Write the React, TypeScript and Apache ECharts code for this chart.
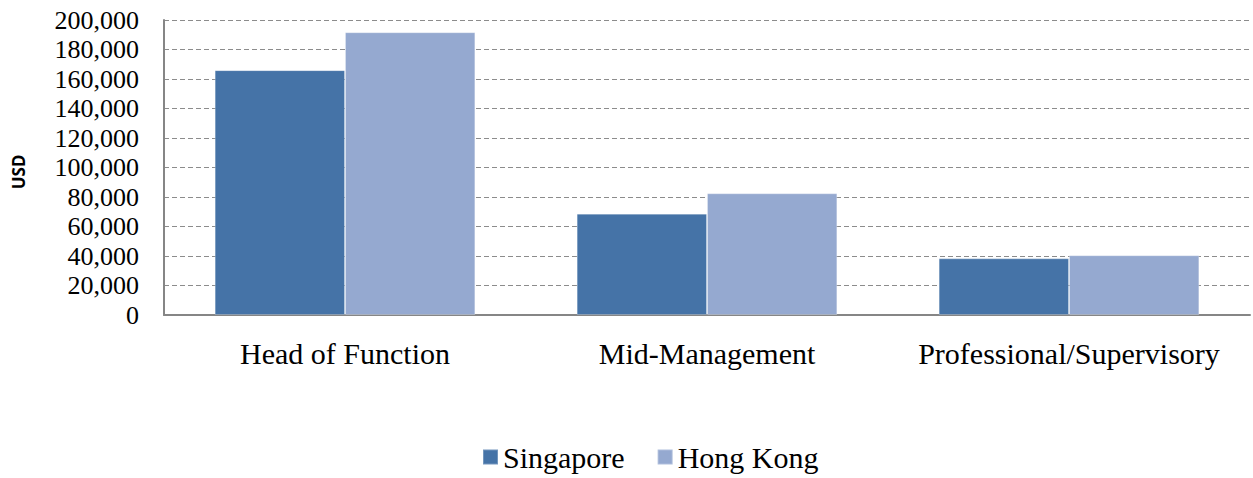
import React, { useEffect, useRef } from "react";
import * as echarts from "echarts";

const categories = ["Head of Function", "Mid-Management", "Professional/Supervisory"];
const singapore = [166000, 68700, 38400];
const hongKong = [191700, 82500, 40500];
const seriesNames = ["Singapore", "Hong Kong"];
const yAxisTitle = "USD";

export default function App() {
  const ref = useRef<HTMLDivElement>(null);
  useEffect(() => {
    document.body.style.margin = "0";
    const chart = echarts.init(ref.current!, null, { renderer: "svg" });
    const serif = "Times New Roman, Liberation Serif, serif";
    chart.setOption({
      animation: false,
      backgroundColor: "#ffffff",
      grid: { left: 164, right: 3, top: 20, bottom: 163 },
      legend: {
        data: seriesNames,
        left: 477,
        bottom: 1,
        itemWidth: 15,
        itemHeight: 15,
        itemGap: 32,
        icon: "rect",
        textStyle: { fontFamily: serif, fontSize: 30, color: "#000" },
      },
      graphic: [
        {
          type: "text",
          x: 18,
          y: 172,
          rotation: Math.PI / 2,
          style: {
            text: yAxisTitle,
            fontFamily: "Noto Sans",
            fontWeight: "bold",
            fontSize: 17,
            fill: "#000",
            align: "center",
            verticalAlign: "middle",
          },
        },
      ],
      xAxis: {
        type: "category",
        data: categories,
        axisLine: { lineStyle: { color: "#868686", width: 2 } },
        axisTick: { show: false },
        axisLabel: { fontFamily: serif, fontSize: 30, color: "#000", margin: 23, interval: 0 },
      },
      yAxis: {
        type: "value",
        min: 0,
        max: 200000,
        interval: 20000,
        axisLine: { show: true, lineStyle: { color: "#868686", width: 2 } },
        axisTick: { show: false },
        axisLabel: {
          fontFamily: serif,
          fontSize: 26,
          color: "#000",
          margin: 25,
          formatter: (v: number) => v.toLocaleString("en-US"),
        },
        splitLine: { lineStyle: { color: "#8c8c8c", type: [5, 3], width: 1 } },
      },
      series: [
        {
          name: seriesNames[0],
          type: "bar",
          data: singapore,
          barGap: "0%",
          barCategoryGap: "28%",
          itemStyle: { color: "#4573A7", borderColor: "rgba(255,255,255,0.25)", borderWidth: 1 },
        },
        {
          name: seriesNames[1],
          type: "bar",
          data: hongKong,
          itemStyle: { color: "#95A9D0", borderColor: "rgba(255,255,255,0.25)", borderWidth: 1 },
        },
      ],
    });
    return () => chart.dispose();
  }, []);
  return <div ref={ref} style={{ width: 1253, height: 478 }} />;
}
